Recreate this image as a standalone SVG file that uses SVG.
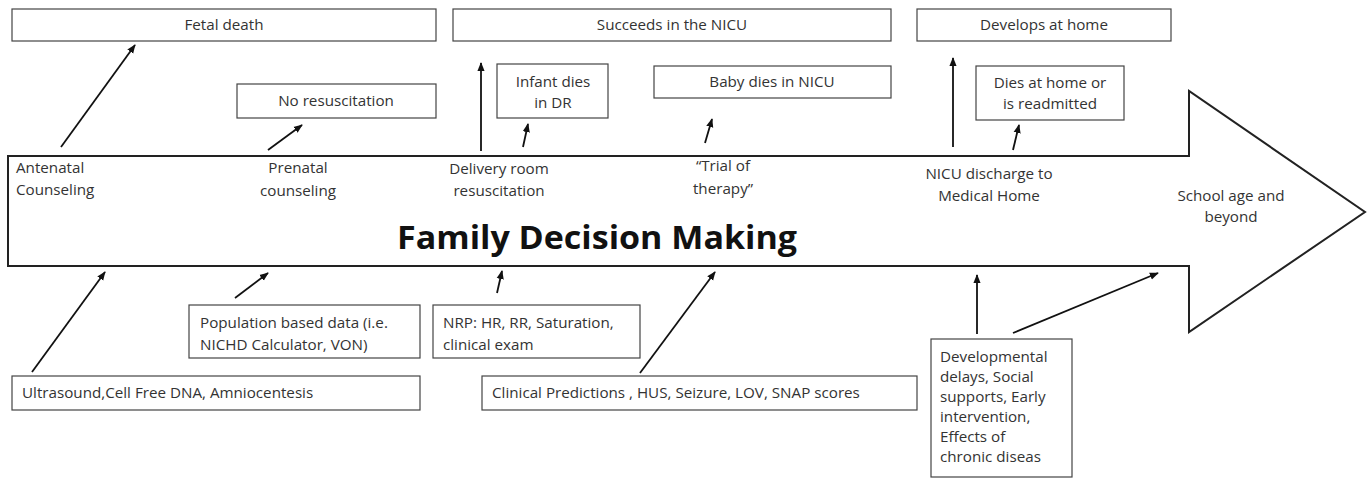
<svg xmlns="http://www.w3.org/2000/svg" width="1371" height="479" viewBox="0 0 1371 479">
<defs>
<marker id="ah" viewBox="0 0 10 10" refX="9" refY="5" markerWidth="5" markerHeight="5" orient="auto-start-reverse" markerUnits="strokeWidth">
<path d="M0,1 L10,5 L0,9 z" fill="#111"/>
</marker>
<style>
.box{fill:#fff;stroke:#444;stroke-width:1.2}
.t{font-family:"Open Sans","Liberation Sans",Arial,sans-serif;font-size:15.2px;fill:#333}
.c{text-anchor:middle}
.con{stroke:#111;stroke-width:1.8;fill:none;marker-end:url(#ah)}
.big{font-family:"Open Sans","Liberation Sans",Arial,sans-serif;font-size:33px;font-weight:bold;fill:#111}
</style>
</defs>
<rect width="1371" height="479" fill="#fff"/>
<g id="main-arrow">
<path d="M8,156 L1189,156 L1189,91 L1365,212 L1189,332 L1189,266 L8,266 Z" fill="#fff" stroke="#222" stroke-width="2"/>
<text class="big c" x="597" y="249" textLength="400" lengthAdjust="spacingAndGlyphs">Family Decision Making</text>
<text class="t" x="16" y="173">Antenatal</text>
<text class="t" x="16" y="195">Counseling</text>
<text class="t c" x="298" y="173">Prenatal</text>
<text class="t c" x="298" y="196">counseling</text>
<text class="t c" x="499" y="174">Delivery room</text>
<text class="t c" x="499" y="196">resuscitation</text>
<text class="t c" x="723" y="171">“Trial of</text>
<text class="t c" x="723" y="194">therapy”</text>
<text class="t c" x="989" y="179">NICU discharge to</text>
<text class="t c" x="989" y="201">Medical Home</text>
<text class="t c" x="1231" y="201">School age and</text>
<text class="t c" x="1231" y="222">beyond</text>
</g>
<g id="fetal-death"><rect class="box" x="12" y="9" width="424" height="32"/><text class="t c" x="224" y="30">Fetal death</text></g>
<g id="succeeds-nicu"><rect class="box" x="453" y="9" width="438" height="32"/><text class="t c" x="672" y="30">Succeeds in the NICU</text></g>
<g id="develops-home"><rect class="box" x="917" y="9" width="254" height="32"/><text class="t c" x="1044" y="30">Develops at home</text></g>
<g id="no-resuscitation"><rect class="box" x="237" y="84" width="199" height="34"/><text class="t c" x="336" y="106">No resuscitation</text></g>
<g id="infant-dies-dr"><rect class="box" x="497" y="64" width="111" height="54"/><text class="t c" x="553" y="87">Infant dies</text><text class="t c" x="553" y="108">in DR</text></g>
<g id="baby-dies-nicu"><rect class="box" x="654" y="66" width="237" height="32"/><text class="t c" x="772" y="87">Baby dies in NICU</text></g>
<g id="dies-home"><rect class="box" x="976" y="66" width="148" height="54"/><text class="t c" x="1050" y="88">Dies at home or</text><text class="t c" x="1050" y="109">is readmitted</text></g>
<g id="population"><rect class="box" x="189" y="305" width="231" height="53"/><text class="t" x="200" y="328">Population based data (i.e.</text><text class="t" x="200" y="350">NICHD Calculator, VON)</text></g>
<g id="nrp"><rect class="box" x="433" y="305" width="207" height="53"/><text class="t" x="443" y="328">NRP: HR, RR, Saturation,</text><text class="t" x="443" y="350">clinical exam</text></g>
<g id="ultrasound"><rect class="box" x="12" y="376" width="408" height="34"/><text class="t" x="22" y="398">Ultrasound,Cell Free DNA, Amniocentesis</text></g>
<g id="clinical"><rect class="box" x="482" y="376" width="435" height="34"/><text class="t" x="492" y="398">Clinical Predictions , HUS, Seizure, LOV, SNAP scores</text></g>
<g id="developmental"><rect class="box" x="931" y="339" width="141" height="138"/>
<text class="t" x="940" y="362">Developmental</text>
<text class="t" x="940" y="382">delays, Social</text>
<text class="t" x="940" y="402">supports, Early</text>
<text class="t" x="940" y="422">intervention,</text>
<text class="t" x="940" y="442">Effects of</text>
<text class="t" x="940" y="462">chronic diseas</text></g>
<g id="connectors">
<line class="con" x1="61" y1="147" x2="135" y2="45"/>
<line class="con" x1="268" y1="150" x2="302" y2="125"/>
<line class="con" x1="481" y1="151" x2="481" y2="63"/>
<line class="con" x1="523" y1="147" x2="528" y2="124"/>
<line class="con" x1="705" y1="143" x2="712" y2="119"/>
<line class="con" x1="953" y1="147" x2="953" y2="58"/>
<line class="con" x1="1013" y1="150" x2="1019" y2="125"/>
<line class="con" x1="32" y1="372" x2="105" y2="272"/>
<line class="con" x1="235" y1="298" x2="268" y2="273"/>
<line class="con" x1="497" y1="293" x2="502" y2="271"/>
<line class="con" x1="640" y1="373" x2="715" y2="272"/>
<line class="con" x1="977" y1="334" x2="977" y2="275"/>
<line class="con" x1="1013" y1="333" x2="1158" y2="273"/>
</g>
</svg>
